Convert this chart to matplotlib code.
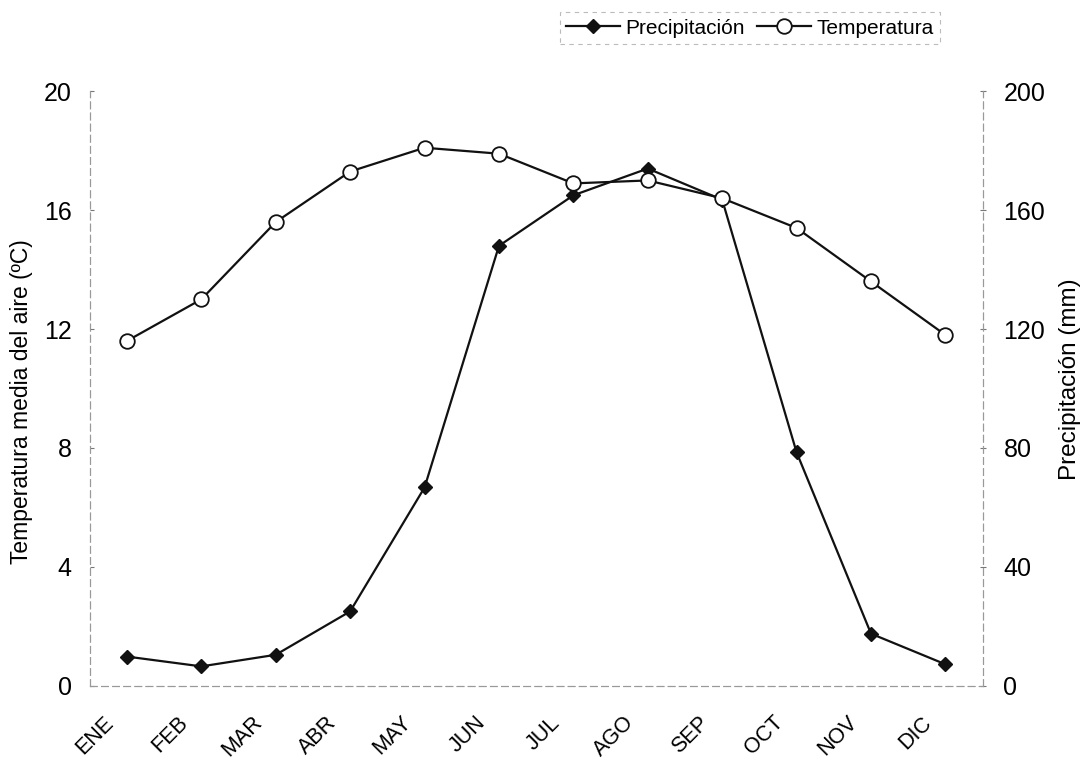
#!/usr/bin/env python3

import matplotlib.pyplot as plt
import matplotlib.transforms as mtransforms
import numpy as np

plt.rcParams['font.family'] = ['Liberation Sans', 'DejaVu Sans']

meses = ['ENE', 'FEB', 'MAR', 'ABR', 'MAY', 'JUN',
         'JUL', 'AGO', 'SEP', 'OCT', 'NOV', 'DIC']
temperatura = [11.6, 13.0, 15.6, 17.3, 18.1, 17.9,
               16.9, 17.0, 16.4, 15.4, 13.6, 11.8]
precipitacion = [9.8, 6.5, 10.4, 25.0, 66.7, 148.0,
                 165.0, 174.0, 163.5, 78.5, 17.5, 7.2]


def plot_clima():
    fig = plt.figure(figsize=(10.81, 7.67), dpi=100)
    ax = fig.add_axes([0.083, 0.106, 0.826, 0.775])
    ax2 = ax.twinx()

    x = np.arange(len(meses))
    lp, = ax2.plot(x, precipitacion, '-', color='#111111', lw=1.6,
                   marker='D', markersize=7.5, label='Precipitación')
    lt, = ax.plot(x, temperatura, '-', color='#111111', lw=1.6,
                  marker='o', markersize=10.5, markerfacecolor='white',
                  markeredgewidth=1.3, label='Temperatura')
    ax.set_zorder(ax2.get_zorder() + 1)
    ax.patch.set_visible(False)

    ax.set_xlim(-0.5, 11.5)
    ax.set_ylim(0, 20)
    ax2.set_ylim(0, 200)
    ax.set_yticks([0, 4, 8, 12, 16, 20])
    ax2.set_yticks([0, 40, 80, 120, 160, 200])
    ax.set_xticks(x)
    ax.set_xticklabels(meses, rotation=45, ha='right', rotation_mode='anchor')
    ax.tick_params(axis='x', length=0, labelsize=15.5, pad=19)
    # month labels sit a bit left of their points
    shift = mtransforms.ScaledTranslation(-0.24, 0, fig.dpi_scale_trans)
    for lab in ax.get_xticklabels():
        lab.set_transform(lab.get_transform() + shift)
    ax.tick_params(axis='y', labelsize=18, pad=13, length=3,
                   direction='in', color='#777777')
    ax2.tick_params(axis='y', labelsize=18, pad=13, length=4,
                    direction='inout', color='#777777')

    ax.set_ylabel('Temperatura media del aire (ºC)', fontsize=16.5)
    ax2.set_ylabel('Precipitación (mm)', fontsize=17.5)
    ax.yaxis.set_label_coords(-0.063, 0.478)
    ax2.yaxis.set_label_coords(1.085, 0.515)

    for a in (ax, ax2):
        a.spines['top'].set_visible(False)
        for s in ('left', 'right', 'bottom'):
            a.spines[s].set_linestyle((0, (6, 4)))
            a.spines[s].set_color('#999999')
            a.spines[s].set_linewidth(0.8)

    leg = fig.legend([lp, lt], ['Precipitación', 'Temperatura'],
                     loc='upper right', bbox_to_anchor=(940 / 1081, 0.984),
                     ncol=2, fontsize=15, frameon=True, fancybox=False,
                     handlelength=2.6, columnspacing=0.6, handletextpad=0.25,
                     borderpad=0.3, borderaxespad=0)
    leg.get_frame().set_edgecolor('#aaaaaa')
    leg.get_frame().set_linestyle((0, (4, 4)))
    leg.get_frame().set_linewidth(0.8)

    fig.savefig('out.png', dpi=100)


if __name__ == '__main__':
    plot_clima()
